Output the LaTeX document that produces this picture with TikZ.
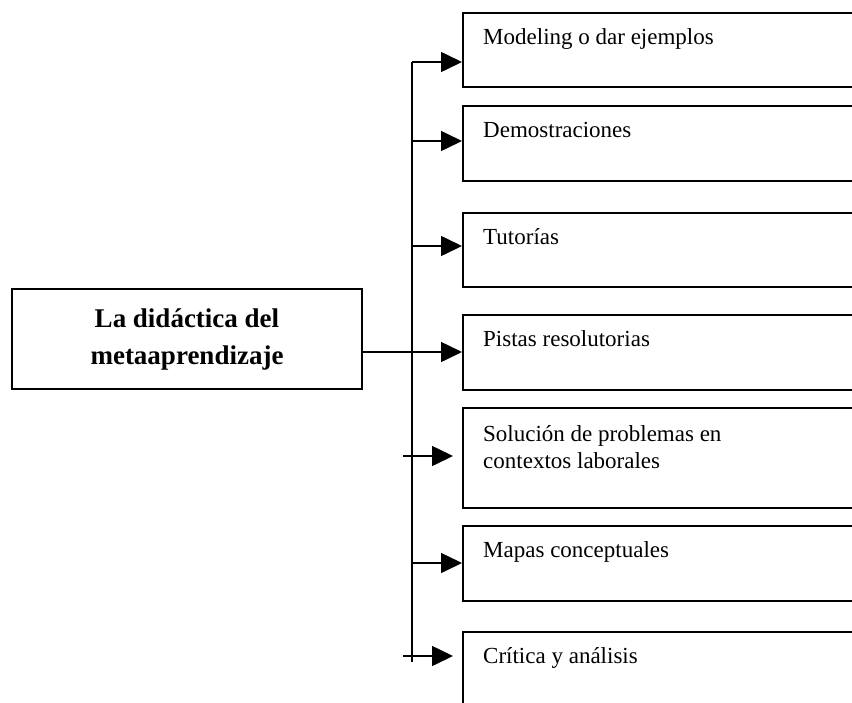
\documentclass[tikz,border=0pt]{standalone}
\usepackage{fontspec}
\setmainfont{Liberation Serif}
\usetikzlibrary{arrows.meta}

\tikzset{
  box/.style={draw,line width=1.6pt,rectangle,inner sep=0pt,anchor=north west,minimum width=450pt},
  lbl/.style={anchor=base west,inner sep=0pt,font=\fontsize{23}{27}\selectfont,align=left},
  arr/.style={line width=1.6pt,-{Triangle[length=21pt,width=20pt]}}
}

\begin{document}
\begin{tikzpicture}[x=1pt,y=-1pt]
  \useasboundingbox (0,0) rectangle (852,702);
  \clip (0,0) rectangle (852,702);

  % main box
  \node (main) at (187,339) [draw,line width=1.6pt,minimum width=350pt,minimum height=100pt,align=center,font=\bfseries\fontsize{27}{37}\selectfont] {La didáctica del\\metaaprendizaje};

  % boxes on the right
  \node (b1) at (462,12) [box,minimum height=74pt] {};
  \node (b2) at (462,105) [box,minimum height=75pt] {};
  \node (b3) at (462,212) [box,minimum height=74pt] {};
  \node (b4) at (462,314) [box,minimum height=75pt] {};
  \node (b5) at (462,407) [box,minimum height=100pt] {};
  \node (b6) at (462,525) [box,minimum height=75pt] {};
  \node (b7) at (462,631) [box,minimum height=100pt] {};

  % last line of t5 sits on the base
  \node (t1) at ([shift={(21,32)}]b1.north west) [lbl] {Modeling o dar ejemplos};
  \node (t2) at ([shift={(21,32)}]b2.north west) [lbl] {Demostraciones};
  \node (t3) at ([shift={(21,32)}]b3.north west) [lbl] {Tutorías};
  \node (t4) at ([shift={(21,32)}]b4.north west) [lbl] {Pistas resolutorias};
  \node (t5) at ([shift={(21,61)}]b5.north west) [lbl] {Solución de problemas en\\contextos laborales};
  \node (t6) at ([shift={(21,32)}]b6.north west) [lbl] {Mapas conceptuales};
  \node (t7) at ([shift={(21,32)}]b7.north west) [lbl] {Crítica y análisis};

  % spine and arrows
  \coordinate (s1) at (412,62);
  \coordinate (s2) at (412,141);
  \coordinate (s3) at (412,246);
  \coordinate (s4) at (412,352);
  \coordinate (s5) at (403,456);
  \coordinate (s6) at (412,563);
  \coordinate (s7) at (403,656);
  \coordinate (sbot) at (412,662);

  \draw[line width=1.6pt] (s1) -- (sbot);
  \draw[arr] (s1) -- (s1 -| b1.west);
  \draw[arr] (s2) -- (s2 -| b2.west);
  \draw[arr] (s3) -- (s3 -| b3.west);
  \draw[arr] (main.east |- s4) -- (s4 -| b4.west);
  \draw[arr] (s5) -- ([xshift=-9pt]s5 -| b5.west);
  \draw[arr] (s6) -- (s6 -| b6.west);
  \draw[arr] (s7) -- ([xshift=-9pt]s7 -| b7.west);
\end{tikzpicture}
\end{document}
